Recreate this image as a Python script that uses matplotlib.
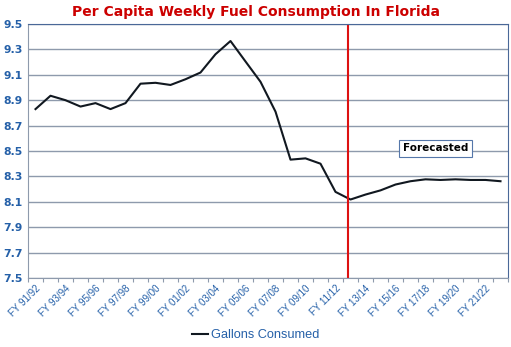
import matplotlib
matplotlib.use("Agg")
import matplotlib.pyplot as plt
import numpy as np

# fiscal years FY 91/92 .. FY 22/23
years = ["FY %02d/%02d" % ((91 + i) % 100, (92 + i) % 100) for i in range(32)]
gallons = [8.83, 8.935, 8.90, 8.85, 8.877, 8.83, 8.877, 9.03, 9.037, 9.02,
           9.065, 9.118, 9.262, 9.366, 9.205, 9.045, 8.81, 8.432, 8.442, 8.40,
           8.178, 8.118, 8.157, 8.19, 8.236, 8.262, 8.277, 8.272, 8.277, 8.272,
           8.272, 8.262]
forecast_at = 21.3
yticks = [7.5, 7.7, 7.9, 8.1, 8.3, 8.5, 8.7, 8.9, 9.1, 9.3, 9.5]

blue = "#2560a8"
grid_c = "#8e9aac"

fig = plt.figure(figsize=(5.11, 3.47), dpi=100)
ax = fig.add_axes([28 / 511, 69 / 347, 480 / 511, 254 / 347])

x = np.arange(len(gallons)) + 0.5
line, = ax.plot(x, gallons, color="#111820", lw=1.5, label="Gallons Consumed")
ax.axvline(forecast_at, color="#dd1111", lw=1.5)

ax.set_xlim(0, len(gallons))
ax.set_ylim(7.5, 9.5)
ax.set_yticks(yticks)
ax.set_yticklabels(["%.1f" % v for v in yticks], color=blue, fontsize=7.8,
                   fontweight="bold", family="DejaVu Sans")
ax.yaxis.grid(True, color=grid_c, lw=1)
ax.tick_params(axis="y", length=0, pad=4)

ax.set_xticks(np.arange(len(gallons) + 1))
ax.set_xticklabels([])
ax.tick_params(axis="x", which="major", length=3, color=grid_c, direction="out")
ax.set_xticks(x[::2], minor=True)
ax.set_xticklabels(years[::2], minor=True, rotation=45, ha="right",
                   rotation_mode="anchor", color=blue, fontsize=7,
                   family="Liberation Sans")
ax.tick_params(axis="x", which="minor", length=0, pad=4)

for s in ["left", "bottom"]:
    ax.spines[s].set_color(grid_c)
for s in ["top", "right"]:
    ax.spines[s].set_color("#4a6898")
ax.set_axisbelow(True)

fig.text(0.5, 1 - 12 / 347, "Per Capita Weekly Fuel Consumption In Florida",
         ha="center", va="center", color="#cc0000", fontsize=10,
         fontweight="bold", family="DejaVu Sans")

ax.text(27.15, 8.52, "Forecasted", ha="center", va="center", fontsize=7.5,
        fontweight="bold", family="DejaVu Sans", color="black",
        bbox=dict(boxstyle="square,pad=0.35", fc="white", ec="#5577aa", lw=0.8))

leg = fig.legend(handles=[line], loc="center", bbox_to_anchor=(0.5, 1 - 335 / 347),
                 frameon=False, handlelength=1.3, handletextpad=0.2,
                 prop={"family": "Liberation Sans", "size": 9.2})
for t in leg.get_texts():
    t.set_color(blue)

fig.savefig("out.png", dpi=100)
